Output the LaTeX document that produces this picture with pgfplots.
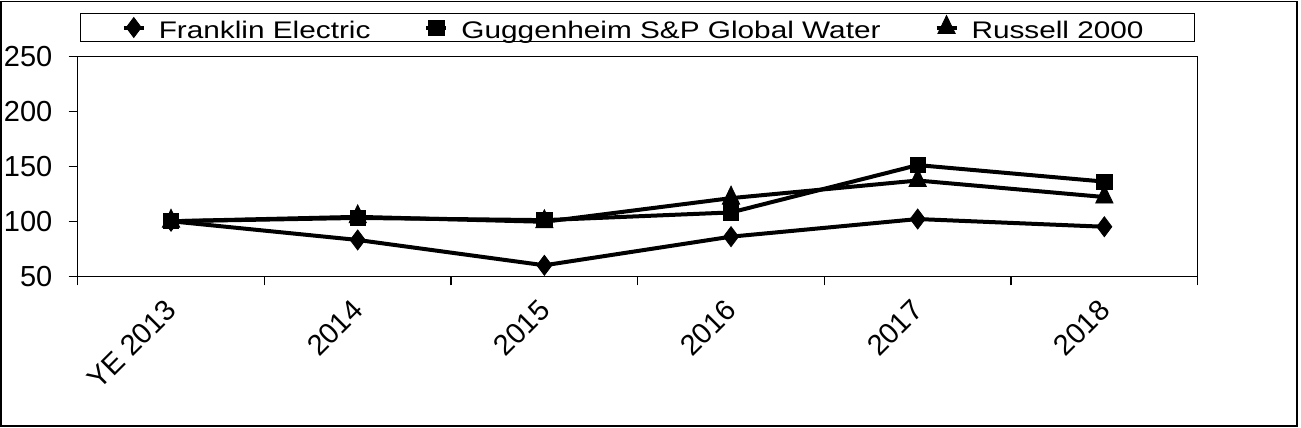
\documentclass[border=0pt]{standalone}
\usepackage{fontspec}
\setmainfont{Liberation Sans}
\newfontfamily\legfont[FakeStretch=1.24]{Liberation Sans}
\usepackage{pgfplots}
\pgfplotsset{compat=1.18}
\pgfplotstableread{
x franklin guggen russell
0 100 100 100
1 83  103 104
2 60  101 99.5
3 86  108 121
4 102 151 137
5 95  136 122
}\datatable
\begin{document}
\begin{tikzpicture}
\path[use as bounding box] (0,0) rectangle (650.5pt,214pt);
\draw[line width=0.6pt] (0.5pt,1pt) rectangle (648.5pt,213.2pt);
\begin{axis}[
  scale only axis, width=560pt, height=110.1pt,
  at={(38.85pt,75.85pt)}, anchor=south west,
  xmin=-0.5, xmax=5.5, ymin=50, ymax=250,
  ytick={50,100,...,250},
  xtick={0,...,5},
  xticklabels={YE 2013,2014,2015,2016,2017,2018},
  minor xtick={-0.5,0.5,...,5.5},
  tick align=outside, tick pos=left,
  major tick length=4.5pt, minor tick length=4.5pt,
  major x tick style={draw=none},
  every tick/.style={black, line width=0.6pt},
  minor x tick style={black, line width=0.6pt},
  axis line style={line width=0.6pt},
  /pgf/number format/assume math mode=true,
  ticklabel style={font=\fontsize{14.5}{16}\selectfont},
  xticklabel style={rotate=45, anchor=north east, inner sep=1pt, xshift=-5.8pt, yshift=-0.7pt},
  yticklabel style={anchor=east, inner sep=0pt, xshift=-8pt},
  legend columns=3,
  legend style={at={(0.5,1)}, anchor=south, yshift=7.15pt,
    draw=black, line width=0.6pt, inner xsep=0pt, inner ysep=0pt,
    minimum width=557pt, minimum height=13.7pt,
    font=\legfont\fontsize{12}{13}\selectfont,
    nodes={inner sep=0pt, minimum width=0pt, minimum height=0pt, text height=12.5pt, text depth=1.2pt},
    /tikz/every odd column/.append style={column sep=6.5pt},
    /tikz/every even column/.append style={column sep=27pt}},
  legend cell align=left,
  legend image code/.code={\draw[mark repeat=2,mark phase=2,#1] plot coordinates {(0pt,0pt)(5pt,0pt)(10pt,0pt)};},
]
\addplot[black, line width=2pt, mark=diamond*, mark size=5pt,
  mark options={solid, fill=black, line width=0.4pt}]
  table[x=x, y=franklin] {\datatable};
\addlegendentry{Franklin Electric}
\addplot[black, line width=2pt, mark=square*, mark size=3.8pt,
  mark options={solid, fill=black, line width=0.4pt}]
  table[x=x, y=guggen] {\datatable};
\addlegendentry{Guggenheim S\&P Global Water}
\addplot[black, line width=2pt, mark=triangle*, mark size=5pt,
  mark options={solid, fill=black, line width=0.4pt, yscale=1.2}]
  table[x=x, y=russell] {\datatable};
\addlegendentry{Russell 2000\kern5pt\null}
\end{axis}
\end{tikzpicture}
\end{document}
